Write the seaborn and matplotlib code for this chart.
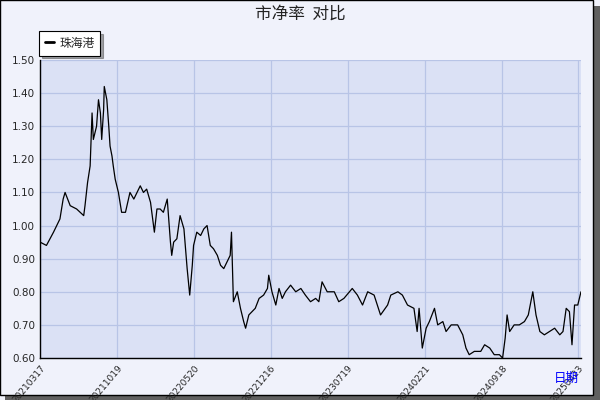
import matplotlib
matplotlib.use("Agg")
import matplotlib.pyplot as plt
import seaborn as sns
from matplotlib.patches import Rectangle

# 交易日序号 与 市净率
days = [0, 10, 21, 26, 31, 36, 39, 47, 57, 68, 70, 74, 78, 81, 83, 88, 91, 94, 96, 99,
        100, 104, 107, 109, 112, 114, 117, 122, 127, 133, 140, 146, 151, 156, 161, 166,
        172, 178, 182, 187, 192, 198, 203, 205, 208, 213, 218, 224, 229, 233, 237, 239,
        244, 250, 255, 260, 265, 270, 276, 281, 286, 291, 296, 298, 301, 307, 312, 317,
        320, 325, 330, 335, 341, 348, 354, 356, 361, 367, 372, 377, 382, 390, 398, 406,
        413, 421, 429, 434, 439, 447, 458, 465, 473, 486, 494, 502, 510, 520, 530, 541,
        546, 557, 564, 572, 582, 587, 590, 595, 601, 606, 614, 619, 627, 632, 640, 650,
        658, 663, 668, 676, 686, 692, 700, 707, 715, 720, 724, 727, 731, 738, 746, 754,
        760, 767, 772, 778, 785, 793, 801, 809, 814, 819, 824, 828, 832, 837, 842]
pb = [0.95, 0.94, 0.98, 1.00, 1.02, 1.08, 1.10, 1.06, 1.05, 1.03, 1.06, 1.13, 1.18, 1.34,
      1.26, 1.30, 1.38, 1.34, 1.26, 1.35, 1.42, 1.38, 1.30, 1.24, 1.21, 1.18, 1.14, 1.10,
      1.04, 1.04, 1.10, 1.08, 1.10, 1.12, 1.10, 1.11, 1.07, 0.98, 1.05, 1.05, 1.04, 1.08,
      0.95, 0.91, 0.95, 0.96, 1.03, 0.99, 0.87, 0.79, 0.88, 0.94, 0.98, 0.97, 0.99, 1.00,
      0.94, 0.93, 0.91, 0.88, 0.87, 0.89, 0.91, 0.98, 0.77, 0.80, 0.75, 0.71, 0.69, 0.73,
      0.74, 0.75, 0.78, 0.79, 0.81, 0.85, 0.80, 0.76, 0.81, 0.78, 0.80, 0.82, 0.80, 0.81,
      0.79, 0.77, 0.78, 0.77, 0.83, 0.80, 0.80, 0.77, 0.78, 0.81, 0.79, 0.76, 0.80, 0.79,
      0.73, 0.76, 0.79, 0.80, 0.79, 0.76, 0.75, 0.68, 0.75, 0.63, 0.69, 0.71, 0.75, 0.70,
      0.71, 0.68, 0.70, 0.70, 0.67, 0.63, 0.61, 0.62, 0.62, 0.64, 0.63, 0.61, 0.61, 0.60,
      0.66, 0.73, 0.68, 0.70, 0.70, 0.71, 0.73, 0.80, 0.73, 0.68, 0.67, 0.68, 0.69, 0.67,
      0.68, 0.75, 0.74, 0.64, 0.76, 0.76, 0.80]
tick_days = [0, 120, 240, 359, 479, 599, 719, 838]
tick_labels = ["20210317", "20211019", "20220520", "20221216",
               "20230719", "20240221", "20240918", "20250423"]

sns.set_style("white")
plt.rcParams["font.family"] = ["Noto Sans CJK SC", "DejaVu Sans"]

fig = plt.figure(figsize=(6, 4), dpi=100, facecolor="#f0f2fb")
# outer frame with shadow
fig.patches.append(Rectangle((0.008, 0.0), 0.992, 0.985, transform=fig.transFigure,
                             facecolor="#606060", edgecolor="none", zorder=-2))
fig.patches.append(Rectangle((0.0, 0.012), 0.988, 0.988, transform=fig.transFigure,
                             facecolor="#f0f2fb", edgecolor="black", lw=1, zorder=-1))

ax = fig.add_axes([0.0667, 0.105, 0.9016, 0.745])
ax.set_facecolor("#dbe1f5")
sns.lineplot(x=days, y=pb, ax=ax, color="black", lw=0.9, label="珠海港")

ax.set_xlim(0, 842)
ax.set_ylim(0.6, 1.5)
ax.set_yticks([0.6 + 0.1 * i for i in range(10)])
ax.set_yticks([0.65 + 0.1 * i for i in range(9)], minor=True)
ax.set_yticklabels([f"{0.6 + 0.1 * i:.2f}" for i in range(10)], fontsize=7.5,
                   family="DejaVu Sans")
ax.set_xticks(tick_days)
ax.set_xticklabels(tick_labels, rotation=50, ha="right", rotation_mode="anchor",
                   fontsize=6.5, family="DejaVu Sans")
ax.tick_params(axis="both", which="both", direction="in", length=4, width=0.8)
ax.tick_params(axis="x", pad=4)
ax.grid(True, color="#b8c4e6", lw=0.9)
for s in ["top", "right"]:
    ax.spines[s].set_visible(False)
for s in ["left", "bottom"]:
    ax.spines[s].set_color("black")
    ax.spines[s].set_linewidth(1)

leg = ax.legend(loc="lower left", bbox_to_anchor=(-0.002, 1.015), frameon=True,
                fancybox=False, shadow=True, fontsize=8.5, handlelength=0.8,
                handletextpad=0.4, borderpad=0.5, borderaxespad=0)
leg.get_frame().set_edgecolor("black")
leg.get_frame().set_linewidth(0.8)
for h in leg.get_lines():
    h.set_linewidth(2)

fig.text(0.5, 0.965, "市净率  对比", ha="center", va="center", fontsize=12, color="#222222")
fig.text(0.965, 0.055, "日期", ha="right", va="center", fontsize=9, color="blue")

fig.savefig("out.png", dpi=100, facecolor=fig.get_facecolor())
